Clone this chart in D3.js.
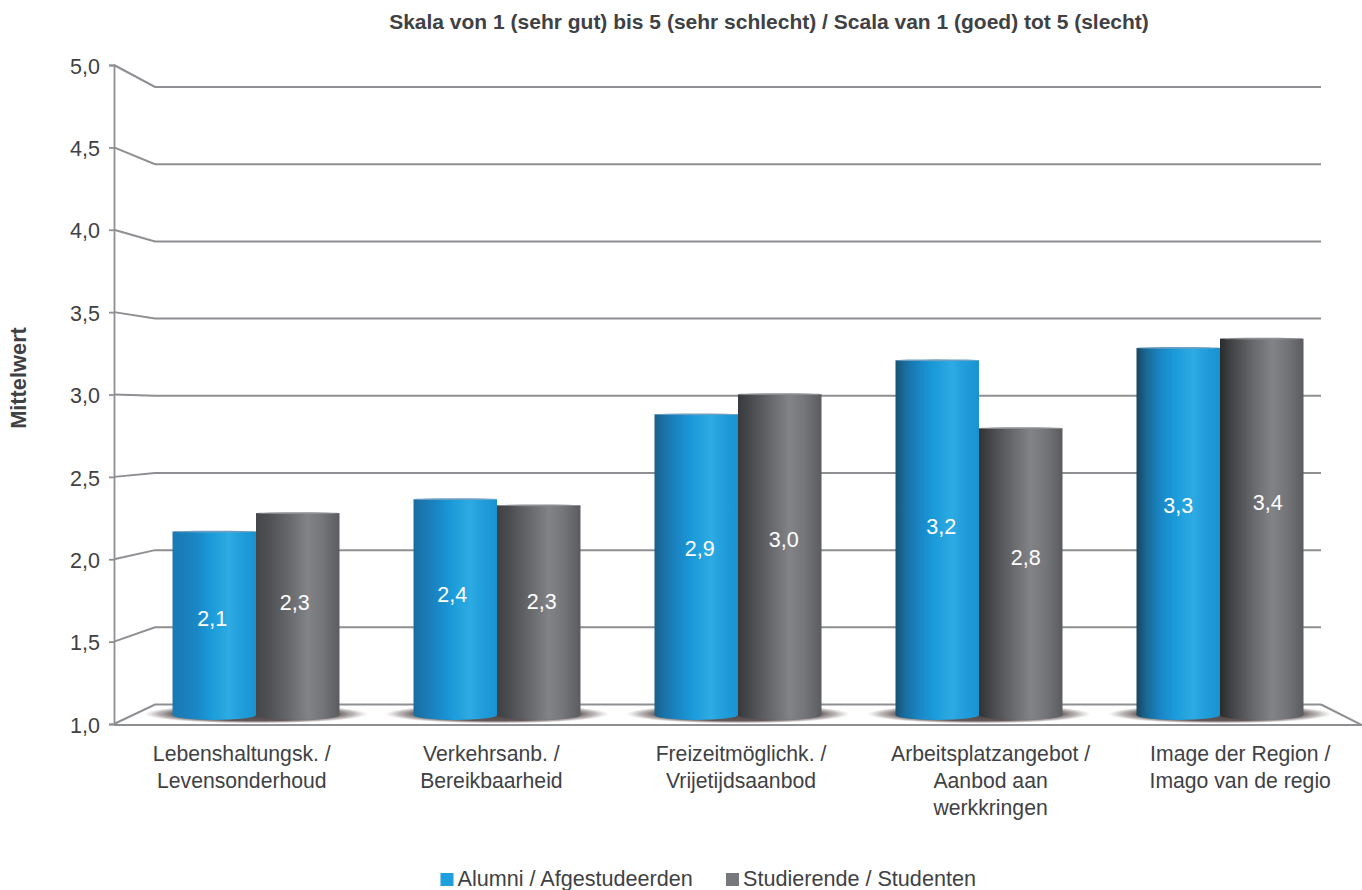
<!DOCTYPE html>
<html><head><meta charset="utf-8">
<script src="https://cdnjs.cloudflare.com/ajax/libs/d3/7.8.5/d3.min.js"></script>
<style>html,body{margin:0;padding:0;background:#fff}svg{display:block}text{font-family:"Liberation Sans",Arial,sans-serif;fill:#404144}</style>
</head><body><svg id="c" width="1362" height="890"></svg>
<script>
const categories = [
  ["Lebenshaltungsk. /","Levensonderhoud"],
  ["Verkehrsanb. /","Bereikbaarheid"],
  ["Freizeitmöglichk. /","Vrijetijdsaanbod"],
  ["Arbeitsplatzangebot /","Aanbod aan","werkkringen"],
  ["Image der Region /","Imago van de regio"]
];
const seriesNames = ["Alumni / Afgestudeerden","Studierende / Studenten"];
const alumni = [2.12,2.33,2.88,3.23,3.31];
const studierende = [2.24,2.29,3.01,2.79,3.37];
const alumniLabels = ["2,1","2,4","2,9","3,2","3,3"];
const studierendeLabels = ["2,3","2,3","3,0","2,8","3,4"];
const alumniLabelLevel = [1.56,1.71,2.01,2.15,2.29];
const studierendeLabelLevel = [1.66,1.67,2.07,1.95,2.31];
const ticks = [1,1.5,2,2.5,3,3.5,4,4.5,5];
const title = "Skala von 1 (sehr gut) bis 5 (sehr schlecht) / Scala van 1 (goed) tot 5 (slecht)";
const yTitle = "Mittelwert";

const svg = d3.select("#c");
const gridColor = "#8e8f92";
const comma = d3.formatLocale({decimal:",",thousands:".",grouping:[3],currency:["","€"]}).format(".1f");
const yFront = d3.scaleLinear().domain([1,5]).range([724,65]);
const yBack = d3.scaleLinear().domain([1,5]).range([704.5,87]);
const x0 = d3.scaleBand().domain(d3.range(categories.length)).range([135.5,1340.5]);
const x1 = d3.scaleBand().domain([0,1]).range([x0.bandwidth()/2-83.5,x0.bandwidth()/2+83.5]);
const xLabels = d3.scaleBand().domain(d3.range(categories.length)).range([118,1366]);

// layout tweaks: the value labels do not sit exactly on the cylinder axis
const labelNudge = [[-2,-3,3.5,4,0],[-3,3,4,5,6]];
const edgeBlue = d3.scaleLinear().domain([0,4]).range(["#1a7ab4","#17465f"]);
const edgeGray = d3.scaleLinear().domain([0,4]).range(["#46474a","#2a2b2d"]);

const defs = svg.append("defs");
function grad(id,stops){
  const g = defs.append("linearGradient").attr("id",id);
  stops.forEach(([o,c])=>g.append("stop").attr("offset",o).attr("stop-color",c));
}
categories.forEach((c,i)=>{
  grad("gBlue"+i,[[0,edgeBlue(i)],[.12,d3.interpolateRgb(edgeBlue(i),"#1a80bd")(.6)],[.3,"#1a88c8"],[.45,"#1a9ad9"],[.68,"#2dabe3"],[.8,"#229fdc"],[1,"#1a92d1"]]);
  grad("gGray"+i,[[0,edgeGray(i)],[.15,d3.interpolateRgb(edgeGray(i),"#555659")(.6)],[.4,"#68696d"],[.62,"#828387"],[.8,"#747579"],[1,"#5b5c60"]]);
});
const shadow = defs.append("radialGradient").attr("id","gShadow");
[[0,"#4a3f3f",1],[.72,"#5a4f4f",.95],[.88,"#8a8080",.55],[1,"#b0a8a8",0]].forEach(([o,c,a])=>
  shadow.append("stop").attr("offset",o).attr("stop-color",c).attr("stop-opacity",a));

const walls = svg.append("g");
walls.selectAll("path").data(ticks).join("path")
  .attr("d",d=>d3.line()([[114,yFront(d)],[155,yBack(d)],[1321,yBack(d)]]))
  .attr("fill","none").attr("stroke",gridColor).attr("stroke-width",2);
walls.append("path")
  .attr("d",d3.line()([[114,725],[1362,725],[1321,yBack(1)]]))
  .attr("fill","none").attr("stroke",gridColor).attr("stroke-width",2);

const ax = svg.append("g").attr("transform","translate(114,0)")
  .call(d3.axisLeft(yFront).tickValues(ticks).tickSize(5).tickPadding(9).tickFormat(comma));
ax.selectAll("path,line").attr("stroke",gridColor).attr("stroke-width",1.8);
ax.selectAll("text").attr("font-size",21.5).attr("dy","0.38em").attr("font-family",'"Liberation Sans",Arial,sans-serif').style("fill","#404144");

const barBase = yBack(1)+14.5;
const groups = svg.append("g").selectAll("g").data(categories).join("g")
  .attr("transform",(d,i)=>`translate(${x0(i)},0)`);
groups.append("ellipse")
  .attr("cx",x0.bandwidth()/2).attr("cy",barBase-5).attr("rx",112).attr("ry",9.5)
  .attr("fill","url(#gShadow)");

const series = [
  {vals:alumni,labels:alumniLabels,levels:alumniLabelLevel,id:"gBlue",cap:"#6f9fc0"},
  {vals:studierende,labels:studierendeLabels,levels:studierendeLabelLevel,id:"gGray",cap:"#8d8e91"}
];
[1,0].forEach(s=>{
  const S = series[s];
  groups.append("path")
    .attr("d",(d,i)=>{
      const l=x1(s), r=l+x1.bandwidth(), t=yBack(S.vals[i]);
      return `M${l},${t}V${barBase-4}A${x1.bandwidth()/2},5 0 0 0 ${r},${barBase-4}V${t}Z`;
    }).attr("fill",(d,i)=>`url(#${S.id}${i})`);
  groups.append("ellipse")
    .attr("cx",x1(s)+x1.bandwidth()/2).attr("cy",(d,i)=>yBack(S.vals[i]))
    .attr("rx",x1.bandwidth()/2).attr("ry",0.9).attr("fill",S.cap);
});
[0,1].forEach(s=>{
  const S = series[s];
  groups.append("text")
    .attr("x",(d,i)=>x1(s)+x1.bandwidth()/2+labelNudge[s][i]).attr("y",(d,i)=>yBack(S.levels[i]))
    .attr("dy","0.35em").attr("text-anchor","middle").attr("font-size",21.5)
    .style("fill","#fff").text((d,i)=>S.labels[i]);
});

svg.append("g").selectAll("text").data(categories).join("text")
  .attr("text-anchor","middle").attr("font-size",21.2)
  .each(function(d,i){
    d3.select(this).selectAll("tspan").data(d).join("tspan")
      .attr("x",xLabels(i)+xLabels.bandwidth()/2-1).attr("y",(t,k)=>761+k*27).text(t=>t);
  });

svg.append("text").attr("x",769).attr("y",29).attr("text-anchor","middle")
  .attr("font-size",21).attr("font-weight","bold").text(title);
svg.append("text").attr("transform","translate(26,378) rotate(-90)").attr("text-anchor","middle")
  .attr("font-size",21.8).attr("font-weight","bold").text(yTitle);

const lx = d3.scaleOrdinal().domain(seriesNames).range([440.5,726]);
const lg = svg.append("g").selectAll("g").data(seriesNames).join("g")
  .attr("transform",d=>`translate(${lx(d)},873)`);
lg.append("rect").attr("width",13).attr("height",13).attr("fill",(d,i)=>["#1f9fdc","#77787c"][i]);
lg.append("text").attr("x",17).attr("y",12.5).attr("font-size",21.6).text(d=>d);
</script></body></html>
